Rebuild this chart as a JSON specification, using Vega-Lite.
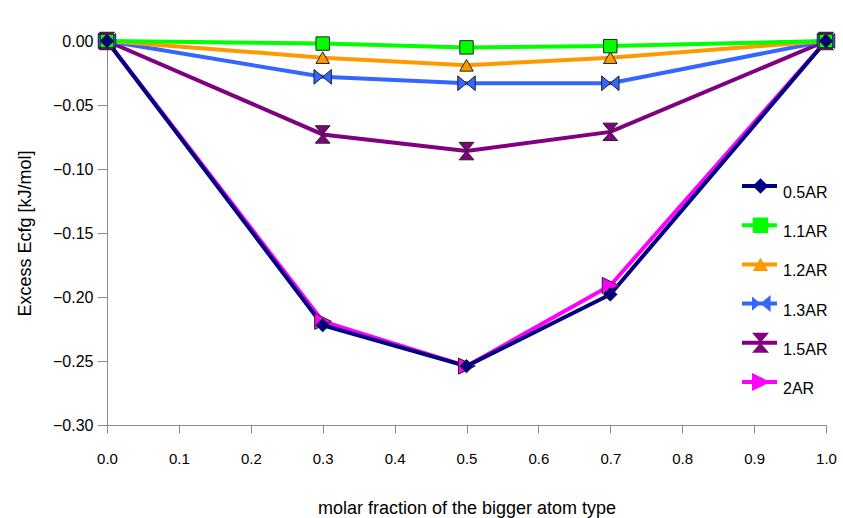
{
  "$schema": "https://vega.github.io/schema/vega-lite/v6.json",
  "width": 719,
  "height": 384,
  "autosize": {"type": "none"},
  "padding": {"left": 107, "top": 41, "right": 17, "bottom": 93},
  "background": "white",
  "config": {
    "view": {"stroke": null},
    "font": "Liberation Sans",
    "axis": {
      "grid": false,
      "domainColor": "#888888",
      "tickColor": "#888888",
      "domainWidth": 1,
      "tickWidth": 1,
      "labelColor": "#000000",
      "titleColor": "#000000",
      "titleFontWeight": "normal",
      "labelFlush": false,
      "labelOverlap": false,
      "labelBound": false
    }
  },
  "data": {
    "values": [
      {"series": "2AR", "x": 0.0, "y": 0.0},
      {"series": "2AR", "x": 0.3, "y": -0.219},
      {"series": "2AR", "x": 0.5, "y": -0.254},
      {"series": "2AR", "x": 0.7, "y": -0.191},
      {"series": "2AR", "x": 1.0, "y": 0.0},
      {"series": "1.5AR", "x": 0.0, "y": 0.0},
      {"series": "1.5AR", "x": 0.3, "y": -0.073},
      {"series": "1.5AR", "x": 0.5, "y": -0.086},
      {"series": "1.5AR", "x": 0.7, "y": -0.071},
      {"series": "1.5AR", "x": 1.0, "y": 0.0},
      {"series": "1.3AR", "x": 0.0, "y": 0.0},
      {"series": "1.3AR", "x": 0.3, "y": -0.028},
      {"series": "1.3AR", "x": 0.5, "y": -0.033},
      {"series": "1.3AR", "x": 0.7, "y": -0.033},
      {"series": "1.3AR", "x": 1.0, "y": 0.0},
      {"series": "1.2AR", "x": 0.0, "y": 0.0},
      {"series": "1.2AR", "x": 0.3, "y": -0.013},
      {"series": "1.2AR", "x": 0.5, "y": -0.019},
      {"series": "1.2AR", "x": 0.7, "y": -0.013},
      {"series": "1.2AR", "x": 1.0, "y": 0.0},
      {"series": "1.1AR", "x": 0.0, "y": 0.0},
      {"series": "1.1AR", "x": 0.3, "y": -0.002},
      {"series": "1.1AR", "x": 0.5, "y": -0.005},
      {"series": "1.1AR", "x": 0.7, "y": -0.004},
      {"series": "1.1AR", "x": 1.0, "y": 0.0},
      {"series": "0.5AR", "x": 0.0, "y": 0.0},
      {"series": "0.5AR", "x": 0.3, "y": -0.222},
      {"series": "0.5AR", "x": 0.5, "y": -0.254},
      {"series": "0.5AR", "x": 0.7, "y": -0.198},
      {"series": "0.5AR", "x": 1.0, "y": 0.0}
    ]
  },
  "encoding": {
    "x": {
      "field": "x",
      "type": "quantitative",
      "scale": {"domain": [0, 1], "nice": false, "zero": false},
      "axis": {
        "values": [0, 0.1, 0.2, 0.3, 0.4, 0.5, 0.6, 0.7, 0.8, 0.9, 1.0],
        "format": ".1f",
        "title": "molar fraction of the bigger atom type",
        "tickSize": 8,
        "labelPadding": 18,
        "labelFontSize": 15,
        "titleFontSize": 18,
        "titlePadding": 33
      }
    },
    "y": {
      "field": "y",
      "type": "quantitative",
      "scale": {"domain": [-0.3, 0], "nice": false, "zero": false},
      "axis": {
        "values": [-0.3, -0.25, -0.2, -0.15, -0.1, -0.05, 0],
        "format": ".2f",
        "title": "Excess Ecfg [kJ/mol]",
        "tickSize": 10,
        "labelPadding": 4,
        "labelFontSize": 16,
        "titleFontSize": 18,
        "titlePadding": 18
      }
    }
  },
  "layer": [
    {
      "mark": {"type": "line", "strokeWidth": 4, "clip": false},
      "encoding": {
        "stroke": {
          "field": "series",
          "type": "nominal",
          "scale": {
            "domain": ["0.5AR", "1.1AR", "1.2AR", "1.3AR", "1.5AR", "2AR"],
            "range": ["#000080", "#00ff00", "#ff9900", "#3366ff", "#800080", "#ff00ff"]
          },
          "legend": {
            "orient": "none",
            "legendX": 633,
            "legendY": 128,
            "title": null,
            "symbolType": "stroke",
            "symbolSize": 1225,
            "symbolStrokeWidth": 4,
            "clipHeight": 34,
            "rowPadding": 5.2,
            "labelFontSize": 16,
            "labelOffset": 4,
            "labelColor": "#000000",
            "labelBaseline": "middle",
            "padding": 0,
            "zindex": 0,
            "encode": {"labels": {"update": {"dy": {"value": 7}}}}
          }
        }
      }
    },
    {
      "mark": {"type": "point", "filled": true, "size": 180, "stroke": "#222222", "strokeWidth": 1, "opacity": 1, "clip": false},
      "encoding": {
        "fill": {
          "field": "series",
          "type": "nominal",
          "scale": {"range": ["#000080", "#00ff00", "#ff9900", "#3366ff", "#800080", "#ff00ff"]},
          "legend": {
            "orient": "none",
            "legendX": 645,
            "legendY": 128,
            "title": null,
            "symbolSize": 240,
            "symbolStrokeWidth": 1,
            "symbolStrokeColor": "#222222",
            "clipHeight": 34,
            "rowPadding": 5.2,
            "labelFontSize": 16,
            "labelExpr": "''",
            "padding": 0,
            "zindex": 1
          }
        },
        "shape": {
          "field": "series",
          "type": "nominal",
          "scale": {"range": ["diamond", "square", "triangle-up", "M-1.3,-1.1L0,0L-1.3,1.1ZM1.3,-1.1L0,0L1.3,1.1Z", "M-1.1,-1.3L1.1,-1.3L0,0ZM-1.1,1.3L1.1,1.3L0,0Z", "M-1.2,-1.2L1.3,0L-1.2,1.2Z"]},
          "legend": {
            "orient": "none",
            "legendX": 645,
            "legendY": 128,
            "title": null,
            "symbolSize": 240,
            "symbolStrokeWidth": 1,
            "symbolStrokeColor": "#222222",
            "clipHeight": 34,
            "rowPadding": 5.2,
            "labelFontSize": 16,
            "labelExpr": "''",
            "padding": 0,
            "zindex": 1
          }
        }
      }
    }
  ]
}
